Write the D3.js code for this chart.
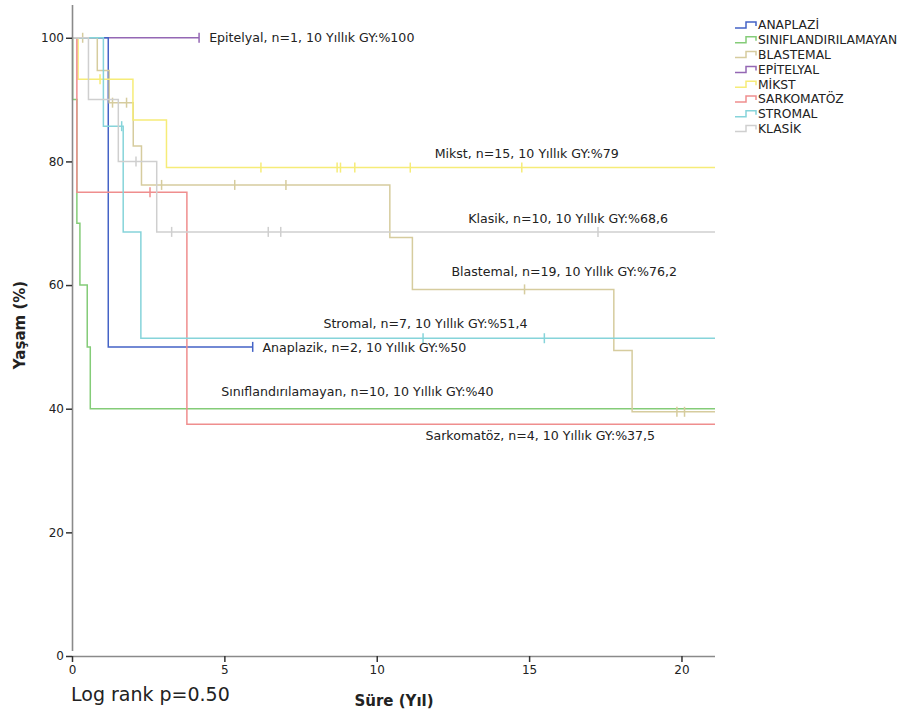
<!DOCTYPE html>
<html>
<head>
<meta charset="utf-8">
<script src="https://cdn.jsdelivr.net/npm/d3@7"></script>
<style>
  body { margin: 0; background: #fff; }
  text { font-family: "DejaVu Sans", sans-serif; fill: #222; }
</style>
</head>
<body>
<div id="chart"></div>
<script>
"use strict";

// groups in legend order
const groups = ["ANAPLAZİ", "SINIFLANDIRILAMAYAN", "BLASTEMAL", "EPİTELYAL", "MİKST", "SARKOMATÖZ", "STROMAL", "KLASİK"];
const colors = ["#4463c6", "#84cc78", "#d6cc9e", "#9467b4", "#f6ec78", "#ef8e8e", "#86d4da", "#cfcfcf"];

// event times (years) and survival (%) after each event
const anaplaziTimes = [1.19];
const anaplaziSurv = [50];
const anaplaziCens = [5.93];
const anaplaziEnd = 5.93;

const sinifTimes = [0.02, 0.16, 0.26, 0.5, 0.6];
const sinifSurv = [90, 70, 60, 50, 40];
const sinifCens = [];
const sinifEnd = 21.1;

const blastemalTimes = [0.83, 1.22, 2.01, 2.28, 10.43, 11.17, 17.78, 18.38];
const blastemalSurv = [94.7, 89.5, 82.5, 76.2, 67.7, 59.3, 49.4, 39.5];
const blastemalCens = [0.35, 1.33, 1.79, 2.94, 5.34, 7.02, 14.85, 19.85, 20.1];
const blastemalEnd = 21.1;

const epitelyalTimes = [];
const epitelyalSurv = [];
const epitelyalCens = [4.17];
const epitelyalEnd = 4.17;

const mikstTimes = [0.2, 2.0, 3.1];
const mikstSurv = [93.3, 86.7, 79];
const mikstCens = [0.92, 6.2, 8.7, 8.81, 9.28, 11.1, 14.76];
const mikstEnd = 21.1;

const sarkomTimes = [0.16, 3.77];
const sarkomSurv = [75, 37.5];
const sarkomCens = [2.56];
const sarkomEnd = 21.1;

const stromalTimes = [1.03, 1.68, 2.26];
const stromalSurv = [85.7, 68.6, 51.4];
const stromalCens = [1.63, 11.52, 15.5];
const stromalEnd = 21.1;

const klasikTimes = [0.54, 1.52, 2.78];
const klasikSurv = [90, 80, 68.6];
const klasikCens = [2.1, 3.27, 6.44, 6.85, 17.26];
const klasikEnd = 21.1;

const xTicks = [0, 5, 10, 15, 20];
const yTicks = [0, 20, 40, 60, 80, 100];

// annotation labels next to the curves: [text, time, survival]
const labels = [
  ["Epitelyal, n=1, 10 Yıllık GY:%100", 4.5, 100],
  ["Mikst, n=15, 10 Yıllık GY:%79", 11.9, 81.3],
  ["Klasik, n=10, 10 Yıllık GY:%68,6", 13.0, 70.8],
  ["Blastemal, n=19, 10 Yıllık GY:%76,2", 12.45, 62.1],
  ["Stromal, n=7, 10 Yıllık GY:%51,4", 8.25, 53.7],
  ["Anaplazik, n=2, 10 Yıllık GY:%50", 6.25, 49.9],
  ["Sınıflandırılamayan, n=10, 10 Yıllık GY:%40", 4.9, 42.8],
  ["Sarkomatöz, n=4, 10 Yıllık GY:%37,5", 11.6, 35.7]
];

const series = [
  { times: anaplaziTimes, surv: anaplaziSurv, cens: anaplaziCens, end: anaplaziEnd },
  { times: sinifTimes, surv: sinifSurv, cens: sinifCens, end: sinifEnd },
  { times: blastemalTimes, surv: blastemalSurv, cens: blastemalCens, end: blastemalEnd },
  { times: epitelyalTimes, surv: epitelyalSurv, cens: epitelyalCens, end: epitelyalEnd },
  { times: mikstTimes, surv: mikstSurv, cens: mikstCens, end: mikstEnd },
  { times: sarkomTimes, surv: sarkomSurv, cens: sarkomCens, end: sarkomEnd },
  { times: stromalTimes, surv: stromalSurv, cens: stromalCens, end: stromalEnd },
  { times: klasikTimes, surv: klasikSurv, cens: klasikCens, end: klasikEnd }
].map((s, i) => ({ ...s, name: groups[i], color: colors[i] }));

const svgWidth = 905;
const svgHeight = 715;

const svg = d3.select("#chart")
  .append("svg")
  .attr("width", svgWidth)
  .attr("height", svgHeight);

const x = d3.scaleLinear().domain([0, 21.1]).range([72, 715]);
const y = d3.scaleLinear().domain([0, 105.3]).range([656, 5]);

// survival value at time t (step function)
function survAt(s, t) {
  let v = 100;
  s.times.forEach((tt, i) => { if (tt <= t) v = s.surv[i]; });
  return v;
}

function stepPoints(s) {
  const pts = [[0, 100]];
  s.times.forEach((t, i) => pts.push([t, s.surv[i]]));
  pts.push([s.end, survAt(s, s.end)]);
  return pts;
}

const line = d3.line()
  .x(d => x(d[0]))
  .y(d => y(d[1]))
  .curve(d3.curveStepAfter);

// draw order: epitelyal first, then the rest
const order = [3, 0, 1, 2, 4, 5, 6, 7];
const curves = svg.append("g").attr("class", "curves");

order.forEach(i => {
  const s = series[i];
  curves.append("path")
    .attr("d", line(stepPoints(s)))
    .attr("fill", "none")
    .attr("stroke", s.color)
    .attr("stroke-width", 1.5);

  curves.selectAll(null)
    .data(s.cens)
    .enter().append("line")
    .attr("x1", d => x(d))
    .attr("x2", d => x(d))
    .attr("y1", d => y(survAt(s, d)) - 5)
    .attr("y2", d => y(survAt(s, d)) + 5)
    .attr("stroke", s.color)
    .attr("stroke-width", 1.5);
});

// axes
const xAxis = svg.append("g")
  .attr("transform", "translate(0," + y(0) + ")")
  .call(d3.axisBottom(x).tickValues(xTicks).tickSizeOuter(0).tickSize(6).tickPadding(3));

const yAxis = svg.append("g")
  .attr("transform", "translate(" + x(0) + ",0)")
  .call(d3.axisLeft(y).tickValues(yTicks).tickSizeOuter(0).tickSize(6).tickPadding(2));

[xAxis, yAxis].forEach(a => {
  a.select(".domain").attr("stroke", "#8a8a8a").attr("stroke-width", 1.6);
  a.selectAll(".tick line").attr("stroke", "#333").attr("stroke-width", 1.5);
  a.selectAll(".tick text")
    .attr("font-family", "DejaVu Sans, sans-serif")
    .attr("font-size", 12)
    .attr("fill", "#333");
});
xAxis.select(".domain").attr("d", "M72,0.5H715");
yAxis.select(".domain").attr("d", "M0.5,651V5");

// axis titles
svg.append("text")
  .attr("transform", "translate(25,325) rotate(-90)")
  .attr("text-anchor", "middle")
  .attr("font-size", 15)
  .attr("font-weight", "bold")
  .text("Yaşam (%)");

svg.append("text")
  .attr("x", 394)
  .attr("y", 706)
  .attr("text-anchor", "middle")
  .attr("font-size", 15)
  .attr("font-weight", "bold")
  .text("Süre (Yıl)");

svg.append("text")
  .attr("x", 71)
  .attr("y", 701)
  .attr("font-size", 19)
  .text("Log rank p=0.50");

// curve annotations
svg.append("g").selectAll("text")
  .data(labels)
  .enter().append("text")
  .attr("x", d => x(d[1]))
  .attr("y", d => y(d[2]))
  .attr("dy", "0.35em")
  .attr("font-size", 12.6)
  .text(d => d[0]);

// legend
const legend = svg.append("g")
  .selectAll("g")
  .data(series)
  .enter().append("g")
  .attr("transform", (d, i) => "translate(735," + (25 + i * 14.8) + ")");

legend.append("path")
  .attr("d", "M0,3H11V-3H21V1")
  .attr("fill", "none")
  .attr("stroke", d => d.color)
  .attr("stroke-width", 1.5);

legend.append("text")
  .attr("x", 23)
  .attr("dy", "0.35em")
  .attr("font-size", 12.3)
  .text(d => d.name);
</script>
</body>
</html>
